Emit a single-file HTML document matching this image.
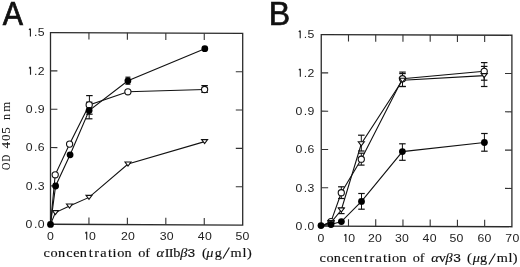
<!DOCTYPE html>
<html><head><meta charset="utf-8"><style>
html,body{margin:0;padding:0;background:#fff;width:520px;height:267px;overflow:hidden;}
svg{display:block;will-change:transform;}
</style></head><body>
<svg width="520" height="267" viewBox="0 0 520 267">
<rect width="520" height="267" fill="#fff"/>
<g transform="translate(146.6 128.8) skewY(0.25) translate(-146.6 -128.8)">
<rect x="50.5" y="32.95" width="192.2" height="191.7" fill="none" stroke="#2b2b2b" stroke-width="1.3"/>
<line x1="88.94" y1="32.95" x2="88.94" y2="39.85" stroke="#333" stroke-width="1.1"/>
<line x1="88.94" y1="224.65" x2="88.94" y2="217.75" stroke="#333" stroke-width="1.1"/>
<line x1="127.38" y1="32.95" x2="127.38" y2="39.85" stroke="#333" stroke-width="1.1"/>
<line x1="127.38" y1="224.65" x2="127.38" y2="217.75" stroke="#333" stroke-width="1.1"/>
<line x1="165.82" y1="32.95" x2="165.82" y2="39.85" stroke="#333" stroke-width="1.1"/>
<line x1="165.82" y1="224.65" x2="165.82" y2="217.75" stroke="#333" stroke-width="1.1"/>
<line x1="204.26" y1="32.95" x2="204.26" y2="39.85" stroke="#333" stroke-width="1.1"/>
<line x1="204.26" y1="224.65" x2="204.26" y2="217.75" stroke="#333" stroke-width="1.1"/>
<line x1="50.5" y1="186.31" x2="57.4" y2="186.31" stroke="#333" stroke-width="1.1"/>
<line x1="242.7" y1="186.31" x2="235.79999999999998" y2="186.31" stroke="#333" stroke-width="1.1"/>
<line x1="50.5" y1="147.97" x2="57.4" y2="147.97" stroke="#333" stroke-width="1.1"/>
<line x1="242.7" y1="147.97" x2="235.79999999999998" y2="147.97" stroke="#333" stroke-width="1.1"/>
<line x1="50.5" y1="109.63" x2="57.4" y2="109.63" stroke="#333" stroke-width="1.1"/>
<line x1="242.7" y1="109.63" x2="235.79999999999998" y2="109.63" stroke="#333" stroke-width="1.1"/>
<line x1="50.5" y1="71.29" x2="57.4" y2="71.29" stroke="#333" stroke-width="1.1"/>
<line x1="242.7" y1="71.29" x2="235.79999999999998" y2="71.29" stroke="#333" stroke-width="1.1"/>
</g>
<text transform="translate(29.00 228.1) scale(1.07 1)" x="-3.20" y="0" font-size="11.5" font-family='"Liberation Sans", sans-serif'  fill="#222">0</text><text transform="translate(35.63 228.1) scale(1.07 1)" x="-1.60" y="0" font-size="11.5" font-family='"Liberation Sans", sans-serif'  fill="#222">.</text><text transform="translate(41.06 228.1) scale(1.07 1)" x="-3.20" y="0" font-size="11.5" font-family='"Liberation Sans", sans-serif'  fill="#222">0</text>
<text transform="translate(29.06 189.76) scale(1.07 1)" x="-3.20" y="0" font-size="11.5" font-family='"Liberation Sans", sans-serif'  fill="#222">0</text><text transform="translate(35.69 189.76) scale(1.07 1)" x="-1.60" y="0" font-size="11.5" font-family='"Liberation Sans", sans-serif'  fill="#222">.</text><text transform="translate(41.08 189.76) scale(1.07 1)" x="-3.16" y="0" font-size="11.5" font-family='"Liberation Sans", sans-serif'  fill="#222">3</text>
<text transform="translate(29.06 151.42000000000002) scale(1.07 1)" x="-3.20" y="0" font-size="11.5" font-family='"Liberation Sans", sans-serif'  fill="#222">0</text><text transform="translate(35.69 151.42000000000002) scale(1.07 1)" x="-1.60" y="0" font-size="11.5" font-family='"Liberation Sans", sans-serif'  fill="#222">.</text><text transform="translate(41.16 151.42000000000002) scale(1.07 1)" x="-3.24" y="0" font-size="11.5" font-family='"Liberation Sans", sans-serif'  fill="#222">6</text>
<text transform="translate(29.10 113.08000000000003) scale(1.07 1)" x="-3.20" y="0" font-size="11.5" font-family='"Liberation Sans", sans-serif'  fill="#222">0</text><text transform="translate(35.73 113.08000000000003) scale(1.07 1)" x="-1.60" y="0" font-size="11.5" font-family='"Liberation Sans", sans-serif'  fill="#222">.</text><text transform="translate(41.16 113.08000000000003) scale(1.07 1)" x="-3.20" y="0" font-size="11.5" font-family='"Liberation Sans", sans-serif'  fill="#222">9</text>
<path d="M30.51 74.74 V66.83 M30.31 66.93 L29.11 68.33" fill="none" stroke="#222" stroke-width="1.15"/><text transform="translate(35.77 74.74000000000002) scale(1.07 1)" x="-1.60" y="0" font-size="11.5" font-family='"Liberation Sans", sans-serif'  fill="#222">.</text><text transform="translate(41.20 74.74000000000002) scale(1.07 1)" x="-3.20" y="0" font-size="11.5" font-family='"Liberation Sans", sans-serif'  fill="#222">2</text>
<path d="M30.41 36.40 V28.49 M30.21 28.59 L29.01 29.99" fill="none" stroke="#222" stroke-width="1.15"/><text transform="translate(35.66 36.40000000000002) scale(1.07 1)" x="-1.60" y="0" font-size="11.5" font-family='"Liberation Sans", sans-serif'  fill="#222">.</text><text transform="translate(41.08 36.40000000000002) scale(1.07 1)" x="-3.19" y="0" font-size="11.5" font-family='"Liberation Sans", sans-serif'  fill="#222">5</text>
<text transform="translate(50.45 239.7) scale(1.07 1)" x="-3.20" y="0" font-size="11.5" font-family='"Liberation Sans", sans-serif'  fill="#222">0</text>
<path d="M86.70 239.70 V231.79 M86.50 231.89 L85.30 233.29" fill="none" stroke="#222" stroke-width="1.15"/><text transform="translate(92.46 239.7) scale(1.07 1)" x="-3.20" y="0" font-size="11.5" font-family='"Liberation Sans", sans-serif'  fill="#222">0</text>
<text transform="translate(124.31 239.7) scale(1.07 1)" x="-3.20" y="0" font-size="11.5" font-family='"Liberation Sans", sans-serif'  fill="#222">2</text><text transform="translate(131.45 239.7) scale(1.07 1)" x="-3.20" y="0" font-size="11.5" font-family='"Liberation Sans", sans-serif'  fill="#222">0</text>
<text transform="translate(163.00 239.7) scale(1.07 1)" x="-3.16" y="0" font-size="11.5" font-family='"Liberation Sans", sans-serif'  fill="#222">3</text><text transform="translate(170.18 239.7) scale(1.07 1)" x="-3.20" y="0" font-size="11.5" font-family='"Liberation Sans", sans-serif'  fill="#222">0</text>
<text transform="translate(201.19 239.7) scale(1.07 1)" x="-3.16" y="0" font-size="11.5" font-family='"Liberation Sans", sans-serif'  fill="#222">4</text><text transform="translate(208.37 239.7) scale(1.07 1)" x="-3.20" y="0" font-size="11.5" font-family='"Liberation Sans", sans-serif'  fill="#222">0</text>
<text transform="translate(238.86 239.7) scale(1.07 1)" x="-3.19" y="0" font-size="11.5" font-family='"Liberation Sans", sans-serif'  fill="#222">5</text><text transform="translate(246.02 239.7) scale(1.07 1)" x="-3.20" y="0" font-size="11.5" font-family='"Liberation Sans", sans-serif'  fill="#222">0</text>
<text transform="translate(12.80 24.9) scale(0.92 1)" x="-11.01" y="0" font-size="33" font-family='"Liberation Sans", sans-serif'  fill="#111" stroke="#111" stroke-width="0.7">A</text>
<text transform="translate(46.60 256.6) scale(1.1 1)" x="-2.93" y="0" font-size="13" font-family='"Liberation Serif", serif'  fill="#111" stroke="#111" stroke-width="0.15">c</text>
<text transform="translate(54.00 256.6) scale(1.1 1)" x="-3.25" y="0" font-size="13" font-family='"Liberation Serif", serif'  fill="#111" stroke="#111" stroke-width="0.15">o</text>
<text transform="translate(61.55 256.6) scale(1.1 1)" x="-3.30" y="0" font-size="13" font-family='"Liberation Serif", serif'  fill="#111" stroke="#111" stroke-width="0.15">n</text>
<text transform="translate(69.35 256.6) scale(1.1 1)" x="-2.93" y="0" font-size="13" font-family='"Liberation Serif", serif'  fill="#111" stroke="#111" stroke-width="0.15">c</text>
<text transform="translate(76.40 256.6) scale(1.1 1)" x="-2.91" y="0" font-size="13" font-family='"Liberation Serif", serif'  fill="#111" stroke="#111" stroke-width="0.15">e</text>
<text transform="translate(83.50 256.6) scale(1.1 1)" x="-3.30" y="0" font-size="13" font-family='"Liberation Serif", serif'  fill="#111" stroke="#111" stroke-width="0.15">n</text>
<text transform="translate(90.75 256.6) scale(1.1 1)" x="-1.83" y="0" font-size="13" font-family='"Liberation Serif", serif'  fill="#111" stroke="#111" stroke-width="0.15">t</text>
<text transform="translate(96.60 256.6) scale(1.1 1)" x="-2.24" y="0" font-size="13" font-family='"Liberation Serif", serif'  fill="#111" stroke="#111" stroke-width="0.15">r</text>
<text transform="translate(103.60 256.6) scale(1.1 1)" x="-3.02" y="0" font-size="13" font-family='"Liberation Serif", serif'  fill="#111" stroke="#111" stroke-width="0.15">a</text>
<text transform="translate(109.95 256.6) scale(1.1 1)" x="-1.83" y="0" font-size="13" font-family='"Liberation Serif", serif'  fill="#111" stroke="#111" stroke-width="0.15">t</text>
<text transform="translate(114.50 256.6) scale(1.1 1)" x="-1.82" y="0" font-size="13" font-family='"Liberation Serif", serif'  fill="#111" stroke="#111" stroke-width="0.15">i</text>
<text transform="translate(120.80 256.6) scale(1.1 1)" x="-3.25" y="0" font-size="13" font-family='"Liberation Serif", serif'  fill="#111" stroke="#111" stroke-width="0.15">o</text>
<text transform="translate(128.10 256.6) scale(1.1 1)" x="-3.30" y="0" font-size="13" font-family='"Liberation Serif", serif'  fill="#111" stroke="#111" stroke-width="0.15">n</text>
<text transform="translate(141.75 256.6) scale(1.1 1)" x="-3.25" y="0" font-size="13" font-family='"Liberation Serif", serif'  fill="#111" stroke="#111" stroke-width="0.15">o</text>
<text transform="translate(147.95 256.6) scale(1.1 1)" x="-2.36" y="0" font-size="13" font-family='"Liberation Serif", serif'  fill="#111" stroke="#111" stroke-width="0.15">f</text>
<text transform="translate(160.60 256.6) scale(1.1 1)" x="-3.71" y="0" font-size="13" font-family='"Liberation Serif", serif' font-style="italic" fill="#111" stroke="#111" stroke-width="0.15">α</text>
<text transform="translate(167.00 256.6) scale(1.1 1)" x="-2.17" y="0" font-size="13" font-family='"Liberation Serif", serif'  fill="#111" stroke="#111" stroke-width="0.15">I</text>
<text transform="translate(171.00 256.6) scale(1.1 1)" x="-2.17" y="0" font-size="13" font-family='"Liberation Serif", serif'  fill="#111" stroke="#111" stroke-width="0.15">I</text>
<text transform="translate(176.50 256.6) scale(1.1 1)" x="-3.00" y="0" font-size="13" font-family='"Liberation Serif", serif'  fill="#111" stroke="#111" stroke-width="0.15">b</text>
<text transform="translate(183.70 256.6) scale(1.1 1)" x="-3.12" y="0" font-size="13" font-family='"Liberation Serif", serif' font-style="italic" fill="#111" stroke="#111" stroke-width="0.15">β</text>
<text transform="translate(191.30 256.6) scale(1.3 1)" x="-2.89" y="0" font-size="10.5" font-family='"Liberation Sans", sans-serif'  fill="#111" stroke="#111" stroke-width="0.15">3</text>
<text transform="translate(204.40 256.6) scale(1.1 1)" x="-2.24" y="0" font-size="13" font-family='"Liberation Serif", serif'  fill="#111" stroke="#111" stroke-width="0.15">(</text>
<text transform="translate(209.70 256.6) scale(1.1 1)" x="-3.04" y="0" font-size="13" font-family='"Liberation Serif", serif' font-style="italic" fill="#111" stroke="#111" stroke-width="0.15">μ</text>
<text transform="translate(218.40 256.6) scale(1.1 1)" x="-3.41" y="0" font-size="13" font-family='"Liberation Serif", serif'  fill="#111" stroke="#111" stroke-width="0.15">g</text>
<text transform="translate(236.00 256.6) scale(1.1 1)" x="-5.09" y="0" font-size="13" font-family='"Liberation Serif", serif'  fill="#111" stroke="#111" stroke-width="0.15">m</text>
<text transform="translate(244.50 256.6) scale(1.1 1)" x="-1.81" y="0" font-size="13" font-family='"Liberation Serif", serif'  fill="#111" stroke="#111" stroke-width="0.15">l</text>
<text transform="translate(249.40 256.6) scale(1.1 1)" x="-2.09" y="0" font-size="13" font-family='"Liberation Serif", serif'  fill="#111" stroke="#111" stroke-width="0.15">)</text>
<line x1="222.9" y1="258.4" x2="229.4" y2="247.6" stroke="#111" stroke-width="1.05"/>
<g transform="translate(10.2 0) rotate(-90)"><text transform="translate(-166.40 0) scale(0.85 1)" x="-4.33" y="0" font-size="12" font-family='"Liberation Serif", serif' fill="#111" stroke="#111" stroke-width="0.05">O</text><text transform="translate(-158.40 0) scale(0.75 1)" x="-4.27" y="0" font-size="12" font-family='"Liberation Serif", serif' fill="#111" stroke="#111" stroke-width="0.05">D</text><text transform="translate(-145.20 0) scale(1.1 1)" x="-3.02" y="0" font-size="12" font-family='"Liberation Serif", serif' fill="#111" stroke="#111" stroke-width="0.05">4</text><text transform="translate(-137.60 0) scale(1.1 1)" x="-3.00" y="0" font-size="12" font-family='"Liberation Serif", serif' fill="#111" stroke="#111" stroke-width="0.05">0</text><text transform="translate(-130.30 0) scale(1.1 1)" x="-3.11" y="0" font-size="12" font-family='"Liberation Serif", serif' fill="#111" stroke="#111" stroke-width="0.05">5</text><text transform="translate(-116.85 0) scale(1.0 1)" x="-3.05" y="0" font-size="12" font-family='"Liberation Serif", serif' fill="#111" stroke="#111" stroke-width="0.05">n</text><text transform="translate(-106.65 0) scale(1.07 1)" x="-4.70" y="0" font-size="12" font-family='"Liberation Serif", serif' fill="#111" stroke="#111" stroke-width="0.05">m</text></g>
<polyline points="50.50,224.40 55.40,212.60 69.50,206.00 89.00,197.40 128.00,164.00 204.60,141.60" fill="none" stroke="#111" stroke-width="1.1"/>
<polyline points="50.50,224.40 55.20,174.80 69.60,144.10 89.20,104.90 127.90,91.80 204.60,89.50" fill="none" stroke="#111" stroke-width="1.1"/>
<polyline points="50.50,224.40 55.60,186.00 70.10,154.80 89.10,110.50 127.90,80.80 204.80,48.70" fill="none" stroke="#111" stroke-width="1.1"/>
<line x1="89.40" y1="95.60" x2="89.40" y2="114.20" stroke="#111" stroke-width="1"/><line x1="86.15" y1="95.60" x2="92.65" y2="95.60" stroke="#111" stroke-width="1.2"/><line x1="86.15" y1="114.20" x2="92.65" y2="114.20" stroke="#111" stroke-width="1.2"/>
<line x1="89.20" y1="102.20" x2="89.20" y2="118.80" stroke="#111" stroke-width="1"/><line x1="85.95" y1="102.20" x2="92.45" y2="102.20" stroke="#111" stroke-width="1.2"/><line x1="85.95" y1="118.80" x2="92.45" y2="118.80" stroke="#111" stroke-width="1.2"/>
<line x1="127.90" y1="77.20" x2="127.90" y2="84.20" stroke="#111" stroke-width="1"/><line x1="125.40" y1="77.20" x2="130.40" y2="77.20" stroke="#111" stroke-width="1.2"/><line x1="125.40" y1="84.20" x2="130.40" y2="84.20" stroke="#111" stroke-width="1.2"/>
<line x1="204.60" y1="85.60" x2="204.60" y2="92.40" stroke="#111" stroke-width="1"/><line x1="201.35" y1="85.60" x2="207.85" y2="85.60" stroke="#111" stroke-width="1.2"/><line x1="201.35" y1="92.40" x2="207.85" y2="92.40" stroke="#111" stroke-width="1.2"/>
<polygon points="52.40,210.60 58.40,210.60 55.40,214.60" fill="#fff" stroke="#111" stroke-width="1.1" stroke-linejoin="miter"/>
<polygon points="66.50,204.00 72.50,204.00 69.50,208.00" fill="#fff" stroke="#111" stroke-width="1.1" stroke-linejoin="miter"/>
<polygon points="86.00,195.40 92.00,195.40 89.00,199.40" fill="#fff" stroke="#111" stroke-width="1.1" stroke-linejoin="miter"/>
<polygon points="125.00,162.00 131.00,162.00 128.00,166.00" fill="#fff" stroke="#111" stroke-width="1.1" stroke-linejoin="miter"/>
<polygon points="201.60,139.60 207.60,139.60 204.60,143.60" fill="#fff" stroke="#111" stroke-width="1.1" stroke-linejoin="miter"/>
<circle cx="55.20" cy="174.80" r="3.1" fill="#fff" stroke="#111" stroke-width="1.1"/>
<circle cx="69.60" cy="144.10" r="3.1" fill="#fff" stroke="#111" stroke-width="1.1"/>
<circle cx="89.20" cy="104.90" r="3.1" fill="#fff" stroke="#111" stroke-width="1.1"/>
<circle cx="127.90" cy="91.80" r="3.1" fill="#fff" stroke="#111" stroke-width="1.1"/>
<circle cx="204.60" cy="89.50" r="3.1" fill="#fff" stroke="#111" stroke-width="1.1"/>
<circle cx="50.50" cy="224.40" r="3.4" fill="#000"/>
<circle cx="55.60" cy="186.00" r="3.4" fill="#000"/>
<circle cx="70.10" cy="154.80" r="3.4" fill="#000"/>
<circle cx="89.10" cy="110.50" r="3.4" fill="#000"/>
<circle cx="127.90" cy="80.80" r="3.4" fill="#000"/>
<circle cx="204.80" cy="48.70" r="3.4" fill="#000"/>
<g transform="translate(416.575 130.65) skewY(0.2) translate(-416.575 -130.65)">
<rect x="321.25" y="34.9" width="190.64999999999998" height="191.5" fill="none" stroke="#2b2b2b" stroke-width="1.3"/>
<line x1="348.49" y1="34.9" x2="348.49" y2="41.8" stroke="#333" stroke-width="1.1"/>
<line x1="348.49" y1="226.4" x2="348.49" y2="219.5" stroke="#333" stroke-width="1.1"/>
<line x1="375.72" y1="34.9" x2="375.72" y2="41.8" stroke="#333" stroke-width="1.1"/>
<line x1="375.72" y1="226.4" x2="375.72" y2="219.5" stroke="#333" stroke-width="1.1"/>
<line x1="402.96" y1="34.9" x2="402.96" y2="41.8" stroke="#333" stroke-width="1.1"/>
<line x1="402.96" y1="226.4" x2="402.96" y2="219.5" stroke="#333" stroke-width="1.1"/>
<line x1="430.19" y1="34.9" x2="430.19" y2="41.8" stroke="#333" stroke-width="1.1"/>
<line x1="430.19" y1="226.4" x2="430.19" y2="219.5" stroke="#333" stroke-width="1.1"/>
<line x1="457.43" y1="34.9" x2="457.43" y2="41.8" stroke="#333" stroke-width="1.1"/>
<line x1="457.43" y1="226.4" x2="457.43" y2="219.5" stroke="#333" stroke-width="1.1"/>
<line x1="484.66" y1="34.9" x2="484.66" y2="41.8" stroke="#333" stroke-width="1.1"/>
<line x1="484.66" y1="226.4" x2="484.66" y2="219.5" stroke="#333" stroke-width="1.1"/>
<line x1="321.25" y1="188.10" x2="328.15" y2="188.10" stroke="#333" stroke-width="1.1"/>
<line x1="511.9" y1="188.10" x2="505.0" y2="188.10" stroke="#333" stroke-width="1.1"/>
<line x1="321.25" y1="149.80" x2="328.15" y2="149.80" stroke="#333" stroke-width="1.1"/>
<line x1="511.9" y1="149.80" x2="505.0" y2="149.80" stroke="#333" stroke-width="1.1"/>
<line x1="321.25" y1="111.50" x2="328.15" y2="111.50" stroke="#333" stroke-width="1.1"/>
<line x1="511.9" y1="111.50" x2="505.0" y2="111.50" stroke="#333" stroke-width="1.1"/>
<line x1="321.25" y1="73.20" x2="328.15" y2="73.20" stroke="#333" stroke-width="1.1"/>
<line x1="511.9" y1="73.20" x2="505.0" y2="73.20" stroke="#333" stroke-width="1.1"/>
</g>
<text transform="translate(298.80 229.85) scale(1.07 1)" x="-3.20" y="0" font-size="11.5" font-family='"Liberation Sans", sans-serif'  fill="#222">0</text><text transform="translate(305.43 229.85) scale(1.07 1)" x="-1.60" y="0" font-size="11.5" font-family='"Liberation Sans", sans-serif'  fill="#222">.</text><text transform="translate(310.86 229.85) scale(1.07 1)" x="-3.20" y="0" font-size="11.5" font-family='"Liberation Sans", sans-serif'  fill="#222">0</text>
<text transform="translate(298.86 191.55) scale(1.07 1)" x="-3.20" y="0" font-size="11.5" font-family='"Liberation Sans", sans-serif'  fill="#222">0</text><text transform="translate(305.49 191.55) scale(1.07 1)" x="-1.60" y="0" font-size="11.5" font-family='"Liberation Sans", sans-serif'  fill="#222">.</text><text transform="translate(310.88 191.55) scale(1.07 1)" x="-3.16" y="0" font-size="11.5" font-family='"Liberation Sans", sans-serif'  fill="#222">3</text>
<text transform="translate(298.86 153.25) scale(1.07 1)" x="-3.20" y="0" font-size="11.5" font-family='"Liberation Sans", sans-serif'  fill="#222">0</text><text transform="translate(305.49 153.25) scale(1.07 1)" x="-1.60" y="0" font-size="11.5" font-family='"Liberation Sans", sans-serif'  fill="#222">.</text><text transform="translate(310.96 153.25) scale(1.07 1)" x="-3.24" y="0" font-size="11.5" font-family='"Liberation Sans", sans-serif'  fill="#222">6</text>
<text transform="translate(298.90 114.95) scale(1.07 1)" x="-3.20" y="0" font-size="11.5" font-family='"Liberation Sans", sans-serif'  fill="#222">0</text><text transform="translate(305.53 114.95) scale(1.07 1)" x="-1.60" y="0" font-size="11.5" font-family='"Liberation Sans", sans-serif'  fill="#222">.</text><text transform="translate(310.96 114.95) scale(1.07 1)" x="-3.20" y="0" font-size="11.5" font-family='"Liberation Sans", sans-serif'  fill="#222">9</text>
<path d="M300.31 76.65 V68.74 M300.11 68.84 L298.91 70.24" fill="none" stroke="#222" stroke-width="1.15"/><text transform="translate(305.57 76.65000000000002) scale(1.07 1)" x="-1.60" y="0" font-size="11.5" font-family='"Liberation Sans", sans-serif'  fill="#222">.</text><text transform="translate(311.00 76.65000000000002) scale(1.07 1)" x="-3.20" y="0" font-size="11.5" font-family='"Liberation Sans", sans-serif'  fill="#222">2</text>
<path d="M300.21 38.35 V30.44 M300.01 30.54 L298.81 31.94" fill="none" stroke="#222" stroke-width="1.15"/><text transform="translate(305.46 38.35000000000001) scale(1.07 1)" x="-1.60" y="0" font-size="11.5" font-family='"Liberation Sans", sans-serif'  fill="#222">.</text><text transform="translate(310.88 38.35000000000001) scale(1.07 1)" x="-3.19" y="0" font-size="11.5" font-family='"Liberation Sans", sans-serif'  fill="#222">5</text>
<text transform="translate(320.95 242.0) scale(1.07 1)" x="-3.20" y="0" font-size="11.5" font-family='"Liberation Sans", sans-serif'  fill="#222">0</text>
<path d="M345.85 242.00 V234.09 M345.65 234.19 L344.45 235.59" fill="none" stroke="#222" stroke-width="1.15"/><text transform="translate(351.61 242.0) scale(1.07 1)" x="-3.20" y="0" font-size="11.5" font-family='"Liberation Sans", sans-serif'  fill="#222">0</text>
<text transform="translate(371.36 242.0) scale(1.07 1)" x="-3.20" y="0" font-size="11.5" font-family='"Liberation Sans", sans-serif'  fill="#222">2</text><text transform="translate(378.50 242.0) scale(1.07 1)" x="-3.20" y="0" font-size="11.5" font-family='"Liberation Sans", sans-serif'  fill="#222">0</text>
<text transform="translate(398.30 242.0) scale(1.07 1)" x="-3.16" y="0" font-size="11.5" font-family='"Liberation Sans", sans-serif'  fill="#222">3</text><text transform="translate(405.48 242.0) scale(1.07 1)" x="-3.20" y="0" font-size="11.5" font-family='"Liberation Sans", sans-serif'  fill="#222">0</text>
<text transform="translate(425.89 242.0) scale(1.07 1)" x="-3.16" y="0" font-size="11.5" font-family='"Liberation Sans", sans-serif'  fill="#222">4</text><text transform="translate(433.07 242.0) scale(1.07 1)" x="-3.20" y="0" font-size="11.5" font-family='"Liberation Sans", sans-serif'  fill="#222">0</text>
<text transform="translate(452.81 242.0) scale(1.07 1)" x="-3.19" y="0" font-size="11.5" font-family='"Liberation Sans", sans-serif'  fill="#222">5</text><text transform="translate(459.97 242.0) scale(1.07 1)" x="-3.20" y="0" font-size="11.5" font-family='"Liberation Sans", sans-serif'  fill="#222">0</text>
<text transform="translate(480.90 242.0) scale(1.07 1)" x="-3.24" y="0" font-size="11.5" font-family='"Liberation Sans", sans-serif'  fill="#222">6</text><text transform="translate(488.00 242.0) scale(1.07 1)" x="-3.20" y="0" font-size="11.5" font-family='"Liberation Sans", sans-serif'  fill="#222">0</text>
<text transform="translate(508.66 242.0) scale(1.07 1)" x="-3.20" y="0" font-size="11.5" font-family='"Liberation Sans", sans-serif'  fill="#222">7</text><text transform="translate(515.80 242.0) scale(1.07 1)" x="-3.20" y="0" font-size="11.5" font-family='"Liberation Sans", sans-serif'  fill="#222">0</text>
<text transform="translate(280.00 24.9) scale(0.97 1)" x="-11.49" y="0" font-size="33" font-family='"Liberation Sans", sans-serif'  fill="#111" stroke="#111" stroke-width="0.7">B</text>
<text transform="translate(322.65 262.4) scale(1.1 1)" x="-2.93" y="0" font-size="13" font-family='"Liberation Serif", serif'  fill="#111" stroke="#111" stroke-width="0.15">c</text>
<text transform="translate(329.94 262.4) scale(1.1 1)" x="-3.25" y="0" font-size="13" font-family='"Liberation Serif", serif'  fill="#111" stroke="#111" stroke-width="0.15">o</text>
<text transform="translate(337.37 262.4) scale(1.1 1)" x="-3.30" y="0" font-size="13" font-family='"Liberation Serif", serif'  fill="#111" stroke="#111" stroke-width="0.15">n</text>
<text transform="translate(345.04 262.4) scale(1.1 1)" x="-2.93" y="0" font-size="13" font-family='"Liberation Serif", serif'  fill="#111" stroke="#111" stroke-width="0.15">c</text>
<text transform="translate(351.98 262.4) scale(1.1 1)" x="-2.91" y="0" font-size="13" font-family='"Liberation Serif", serif'  fill="#111" stroke="#111" stroke-width="0.15">e</text>
<text transform="translate(358.96 262.4) scale(1.1 1)" x="-3.30" y="0" font-size="13" font-family='"Liberation Serif", serif'  fill="#111" stroke="#111" stroke-width="0.15">n</text>
<text transform="translate(366.10 262.4) scale(1.1 1)" x="-1.83" y="0" font-size="13" font-family='"Liberation Serif", serif'  fill="#111" stroke="#111" stroke-width="0.15">t</text>
<text transform="translate(371.85 262.4) scale(1.1 1)" x="-2.24" y="0" font-size="13" font-family='"Liberation Serif", serif'  fill="#111" stroke="#111" stroke-width="0.15">r</text>
<text transform="translate(378.74 262.4) scale(1.1 1)" x="-3.02" y="0" font-size="13" font-family='"Liberation Serif", serif'  fill="#111" stroke="#111" stroke-width="0.15">a</text>
<text transform="translate(384.99 262.4) scale(1.1 1)" x="-1.83" y="0" font-size="13" font-family='"Liberation Serif", serif'  fill="#111" stroke="#111" stroke-width="0.15">t</text>
<text transform="translate(389.47 262.4) scale(1.1 1)" x="-1.82" y="0" font-size="13" font-family='"Liberation Serif", serif'  fill="#111" stroke="#111" stroke-width="0.15">i</text>
<text transform="translate(395.67 262.4) scale(1.1 1)" x="-3.25" y="0" font-size="13" font-family='"Liberation Serif", serif'  fill="#111" stroke="#111" stroke-width="0.15">o</text>
<text transform="translate(402.85 262.4) scale(1.1 1)" x="-3.30" y="0" font-size="13" font-family='"Liberation Serif", serif'  fill="#111" stroke="#111" stroke-width="0.15">n</text>
<text transform="translate(416.28 262.4) scale(1.1 1)" x="-3.25" y="0" font-size="13" font-family='"Liberation Serif", serif'  fill="#111" stroke="#111" stroke-width="0.15">o</text>
<text transform="translate(422.38 262.4) scale(1.1 1)" x="-2.36" y="0" font-size="13" font-family='"Liberation Serif", serif'  fill="#111" stroke="#111" stroke-width="0.15">f</text>
<text transform="translate(435.40 262.4) scale(1.1 1)" x="-3.71" y="0" font-size="13" font-family='"Liberation Serif", serif' font-style="italic" fill="#111" stroke="#111" stroke-width="0.15">α</text>
<text transform="translate(442.30 262.4) scale(1.1 1)" x="-3.25" y="0" font-size="13" font-family='"Liberation Serif", serif'  fill="#111" stroke="#111" stroke-width="0.15">v</text>
<text transform="translate(449.00 262.4) scale(1.1 1)" x="-3.12" y="0" font-size="13" font-family='"Liberation Serif", serif' font-style="italic" fill="#111" stroke="#111" stroke-width="0.15">β</text>
<text transform="translate(456.90 262.4) scale(1.3 1)" x="-2.89" y="0" font-size="10.5" font-family='"Liberation Sans", sans-serif'  fill="#111" stroke="#111" stroke-width="0.15">3</text>
<text transform="translate(469.40 262.4) scale(1.1 1)" x="-2.24" y="0" font-size="13" font-family='"Liberation Serif", serif'  fill="#111" stroke="#111" stroke-width="0.15">(</text>
<text transform="translate(476.20 262.4) scale(1.1 1)" x="-3.04" y="0" font-size="13" font-family='"Liberation Serif", serif' font-style="italic" fill="#111" stroke="#111" stroke-width="0.15">μ</text>
<text transform="translate(483.80 262.4) scale(1.1 1)" x="-3.41" y="0" font-size="13" font-family='"Liberation Serif", serif'  fill="#111" stroke="#111" stroke-width="0.15">g</text>
<text transform="translate(502.30 262.4) scale(1.1 1)" x="-5.09" y="0" font-size="13" font-family='"Liberation Serif", serif'  fill="#111" stroke="#111" stroke-width="0.15">m</text>
<text transform="translate(510.60 262.4) scale(1.1 1)" x="-1.81" y="0" font-size="13" font-family='"Liberation Serif", serif'  fill="#111" stroke="#111" stroke-width="0.15">l</text>
<text transform="translate(515.10 262.4) scale(1.1 1)" x="-2.09" y="0" font-size="13" font-family='"Liberation Serif", serif'  fill="#111" stroke="#111" stroke-width="0.15">)</text>
<line x1="488.9" y1="264.6" x2="495.3" y2="253.5" stroke="#111" stroke-width="1.05"/>
<polyline points="321.30,226.00 331.00,221.60 341.30,192.70 361.30,159.20 402.50,78.70 484.20,71.30" fill="none" stroke="#111" stroke-width="1.1"/>
<polyline points="321.30,226.00 331.00,222.50 341.30,210.00 361.30,143.80 402.50,80.30 484.20,75.60" fill="none" stroke="#111" stroke-width="1.1"/>
<polyline points="321.00,225.60 331.00,224.50 341.40,221.60 361.50,201.40 402.40,151.60 484.40,142.50" fill="none" stroke="#111" stroke-width="1.1"/>
<line x1="341.30" y1="186.80" x2="341.30" y2="198.50" stroke="#111" stroke-width="1"/><line x1="338.05" y1="186.80" x2="344.55" y2="186.80" stroke="#111" stroke-width="1.2"/><line x1="338.05" y1="198.50" x2="344.55" y2="198.50" stroke="#111" stroke-width="1.2"/>
<line x1="341.30" y1="208.00" x2="341.30" y2="213.60" stroke="#111" stroke-width="1"/><line x1="338.05" y1="208.00" x2="344.55" y2="208.00" stroke="#111" stroke-width="1.2"/><line x1="338.05" y1="213.60" x2="344.55" y2="213.60" stroke="#111" stroke-width="1.2"/>
<line x1="361.50" y1="193.50" x2="361.50" y2="209.20" stroke="#111" stroke-width="1"/><line x1="358.25" y1="193.50" x2="364.75" y2="193.50" stroke="#111" stroke-width="1.2"/><line x1="358.25" y1="209.20" x2="364.75" y2="209.20" stroke="#111" stroke-width="1.2"/>
<line x1="361.30" y1="153.20" x2="361.30" y2="165.10" stroke="#111" stroke-width="1"/><line x1="358.05" y1="153.20" x2="364.55" y2="153.20" stroke="#111" stroke-width="1.2"/><line x1="358.05" y1="165.10" x2="364.55" y2="165.10" stroke="#111" stroke-width="1.2"/>
<line x1="361.30" y1="135.20" x2="361.30" y2="151.00" stroke="#111" stroke-width="1"/><line x1="358.05" y1="135.20" x2="364.55" y2="135.20" stroke="#111" stroke-width="1.2"/><line x1="358.05" y1="151.00" x2="364.55" y2="151.00" stroke="#111" stroke-width="1.2"/>
<line x1="402.50" y1="72.10" x2="402.50" y2="86.50" stroke="#111" stroke-width="1"/><line x1="399.25" y1="72.10" x2="405.75" y2="72.10" stroke="#111" stroke-width="1.2"/><line x1="399.25" y1="86.50" x2="405.75" y2="86.50" stroke="#111" stroke-width="1.2"/>
<line x1="402.50" y1="73.60" x2="402.50" y2="86.50" stroke="#111" stroke-width="1"/><line x1="399.25" y1="73.60" x2="405.75" y2="73.60" stroke="#111" stroke-width="1.2"/><line x1="399.25" y1="86.50" x2="405.75" y2="86.50" stroke="#111" stroke-width="1.2"/>
<line x1="402.40" y1="143.80" x2="402.40" y2="160.30" stroke="#111" stroke-width="1"/><line x1="399.15" y1="143.80" x2="405.65" y2="143.80" stroke="#111" stroke-width="1.2"/><line x1="399.15" y1="160.30" x2="405.65" y2="160.30" stroke="#111" stroke-width="1.2"/>
<line x1="484.20" y1="62.60" x2="484.20" y2="80.20" stroke="#111" stroke-width="1"/><line x1="480.95" y1="62.60" x2="487.45" y2="62.60" stroke="#111" stroke-width="1.2"/><line x1="480.95" y1="80.20" x2="487.45" y2="80.20" stroke="#111" stroke-width="1.2"/>
<line x1="484.20" y1="66.40" x2="484.20" y2="86.50" stroke="#111" stroke-width="1"/><line x1="480.95" y1="66.40" x2="487.45" y2="66.40" stroke="#111" stroke-width="1.2"/><line x1="480.95" y1="86.50" x2="487.45" y2="86.50" stroke="#111" stroke-width="1.2"/>
<line x1="484.40" y1="133.50" x2="484.40" y2="151.20" stroke="#111" stroke-width="1"/><line x1="481.15" y1="133.50" x2="487.65" y2="133.50" stroke="#111" stroke-width="1.2"/><line x1="481.15" y1="151.20" x2="487.65" y2="151.20" stroke="#111" stroke-width="1.2"/>
<circle cx="331.00" cy="221.60" r="3.1" fill="#fff" stroke="#111" stroke-width="1.1"/>
<circle cx="341.30" cy="192.70" r="3.1" fill="#fff" stroke="#111" stroke-width="1.1"/>
<circle cx="361.30" cy="159.20" r="3.1" fill="#fff" stroke="#111" stroke-width="1.1"/>
<circle cx="402.50" cy="78.70" r="3.1" fill="#fff" stroke="#111" stroke-width="1.1"/>
<circle cx="484.20" cy="71.30" r="3.1" fill="#fff" stroke="#111" stroke-width="1.1"/>
<polygon points="328.00,220.50 334.00,220.50 331.00,224.50" fill="#fff" stroke="#111" stroke-width="1.1" stroke-linejoin="miter"/>
<polygon points="338.30,208.00 344.30,208.00 341.30,212.00" fill="#fff" stroke="#111" stroke-width="1.1" stroke-linejoin="miter"/>
<polygon points="358.30,141.80 364.30,141.80 361.30,145.80" fill="#fff" stroke="#111" stroke-width="1.1" stroke-linejoin="miter"/>
<polygon points="399.50,78.30 405.50,78.30 402.50,82.30" fill="#fff" stroke="#111" stroke-width="1.1" stroke-linejoin="miter"/>
<polygon points="481.20,73.60 487.20,73.60 484.20,77.60" fill="#fff" stroke="#111" stroke-width="1.1" stroke-linejoin="miter"/>
<circle cx="321.00" cy="225.60" r="3.4" fill="#000"/>
<circle cx="331.00" cy="224.50" r="3.4" fill="#000"/>
<circle cx="341.40" cy="221.60" r="3.4" fill="#000"/>
<circle cx="361.50" cy="201.40" r="3.4" fill="#000"/>
<circle cx="402.40" cy="151.60" r="3.4" fill="#000"/>
<circle cx="484.40" cy="142.50" r="3.4" fill="#000"/>
</svg>
</body></html>
